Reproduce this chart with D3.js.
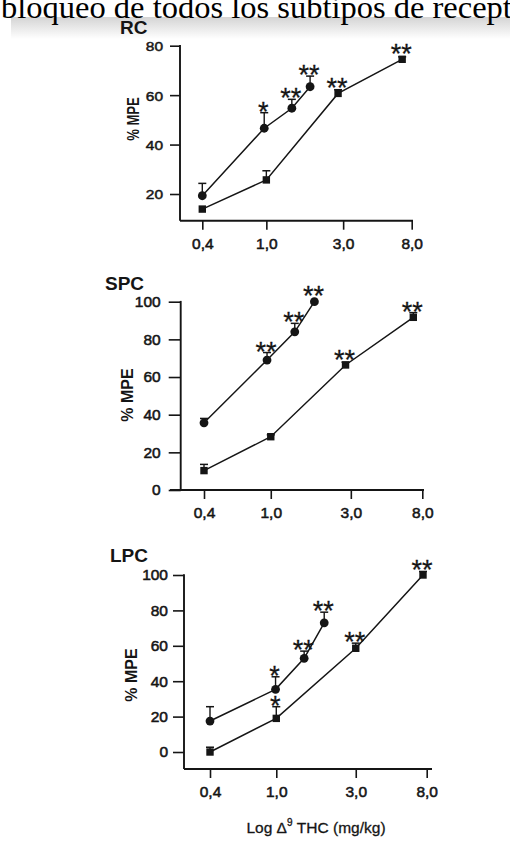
<!DOCTYPE html>
<html><head><meta charset="utf-8">
<script src="https://cdn.jsdelivr.net/npm/d3@7"></script>
<style>
html,body{margin:0;padding:0;background:#fff;overflow:hidden;}
svg{display:block;}
</style></head><body>
<svg id="c" width="510" height="843"></svg>
<script>
// ---------- data ----------
const headerText = "bloqueo de todos los subtipos de receptores";
const xAxisTitle = "Log \u0394";
const xTickValues = [0.4, 1, 3, 8];
const xTickLabels = ["0,4", "1,0", "3,0", "8,0"];
const rcYTicks = [20, 40, 60, 80];
const pcYTicks = [0, 20, 40, 60, 80, 100];

// RC
const rcCircleDose = [0.4, 0.97, 1.44, 1.87];
const rcCircleMean = [19.3, 46.6, 54.7, 63.4];
const rcCircleErr  = [5.0, 6.3, 3.6, 4.3];
const rcCircleSig  = ["", "*", "**", "**"];
const rcSquareDose = [0.4, 1.0, 2.79, 6.98];
const rcSquareMean = [13.9, 25.7, 60.7, 74.5];
const rcSquareErr  = [0.5, 3.7, 1.5, 1.0];
const rcSquareSig  = ["", "", "**", "**"];

// SPC
const spcCircleDose = [0.4, 0.95, 1.39, 1.82];
const spcCircleMean = [35.7, 69.0, 84.0, 100.0];
const spcCircleErr  = [2.3, 4.0, 4.5, 0];
const spcCircleSig  = ["", "**", "**", "**"];
const spcSquareDose = [0.4, 1.0, 2.79, 7.07];
const spcSquareMean = [10.3, 28.3, 66.4, 91.7];
const spcSquareErr  = [3.3, 1.0, 1.5, 2.5];
const spcSquareSig  = ["", "", "**", "**"];

// LPC
const lpcCircleDose = [0.4, 0.99, 1.47, 1.94];
const lpcCircleMean = [17.5, 35.4, 52.9, 73.0];
const lpcCircleErr  = [8.1, 7.1, 4.1, 6.0];
const lpcCircleSig  = ["", "*", "**", "**"];
const lpcSquareDose = [0.4, 1.0, 3.0, 7.6];
const lpcSquareMean = [0, 19.0, 58.6, 100.0];
const lpcSquareErr  = [2.7, 6.6, 2.9, 2.0];
const lpcSquareSig  = ["", "*", "**", "**"];

// ---------- layout ----------
const panels = [
  {title:"RC", titleX:120, titleY:34, axisX:180, xr:[202.3,411.7], yd:[9.2,80], yr:[220.7,45.7],
   yTicks:rcYTicks, ytick:10, ypad:7, xStart:180, xEnd:413, labX:133, labY:119, labScale:0.82, tickScale:0.85,
   c:[rcCircleDose,rcCircleMean,rcCircleErr,rcCircleSig], s:[rcSquareDose,rcSquareMean,rcSquareErr,rcSquareSig]},
  {title:"SPC", titleX:105, titleY:290, axisX:180.7, xr:[204,422.3], yd:[0,100], yr:[490,301.7],
   yTicks:pcYTicks, ytick:12, ypad:8, xStart:170, xEnd:424, labX:127, labY:395, labScale:1, tickScale:1,
   c:[spcCircleDose,spcCircleMean,spcCircleErr,spcCircleSig], s:[spcSquareDose,spcSquareMean,spcSquareErr,spcSquareSig]},
  {title:"LPC", titleX:110, titleY:562, axisX:184, xr:[210,426.7], yd:[-9.6,100], yr:[769,575],
   yTicks:pcYTicks, ytick:11, ypad:5, xStart:184, xEnd:432, labX:131, labY:675, labScale:1, tickScale:1,
   c:[lpcCircleDose,lpcCircleMean,lpcCircleErr,lpcCircleSig], s:[lpcSquareDose,lpcSquareMean,lpcSquareErr,lpcSquareSig]}
];

const svg = d3.select("#c");
const ink = "#151515";
const FONT = "'Liberation Sans', Arial, sans-serif";

// scanned page band
const defs = svg.append("defs");
const g1 = defs.append("linearGradient").attr("id","band").attr("x1",0).attr("y1",0).attr("x2",0).attr("y2",1);
g1.append("stop").attr("offset","0%").attr("stop-color","#d4d4d4");
g1.append("stop").attr("offset","100%").attr("stop-color","#ffffff");
svg.append("rect").attr("x",11).attr("y",17).attr("width",499).attr("height",22).attr("fill","url(#band)");

svg.append("text").attr("x",1).attr("y",17.5)
  .attr("font-family","'Liberation Serif','Times New Roman',serif").attr("font-size",32.5)
  .attr("fill","#000").text(headerText);

panels.forEach(p => {
  const x = d3.scaleLog().domain([0.4, 8]).range(p.xr);
  const y = d3.scaleLinear().domain(p.yd).range(p.yr);
  const g = svg.append("g");
  const yBase = p.yr[0];

  // title
  g.append("text").attr("x",p.titleX).attr("y",p.titleY).attr("font-family",FONT)
    .attr("font-weight","bold").attr("font-size",19).attr("fill",ink).text(p.title);

  // y axis
  const ya = g.append("g").attr("transform",`translate(${p.axisX},0)`)
    .call(d3.axisLeft(y).tickValues(p.yTicks).tickSize(p.ytick).tickPadding(p.ypad).tickFormat(d3.format("d")));
  ya.select(".domain").remove();
  ya.selectAll("line").attr("stroke",ink).attr("stroke-width",1.6);
  ya.selectAll("text").attr("font-family",FONT).attr("font-size",15.5).attr("fill",ink)
    .attr("stroke",ink).attr("stroke-width",0.55);
  if (p.tickScale !== 1) {
    ya.selectAll(".tick text").attr("transform",`scale(1,${p.tickScale})`).attr("dy", (0.32/p.tickScale)+"em");
  }
  g.append("line").attr("x1",p.axisX).attr("x2",p.axisX).attr("y1",y(p.yTicks[p.yTicks.length-1])-0.8).attr("y2",yBase)
    .attr("stroke",ink).attr("stroke-width",1.9);

  // x axis
  const xa = g.append("g").attr("transform",`translate(0,${yBase})`)
    .call(d3.axisBottom(x).tickValues(xTickValues).tickSize(9).tickPadding(8)
      .tickFormat((d,i) => xTickLabels[i]));
  xa.select(".domain").remove();
  xa.selectAll("line").attr("stroke",ink).attr("stroke-width",1.6);
  xa.selectAll("text").attr("font-family",FONT).attr("font-size",15.5).attr("fill",ink)
    .attr("stroke",ink).attr("stroke-width",0.55);
  g.append("line").attr("x1",p.xStart).attr("x2",p.xEnd).attr("y1",yBase).attr("y2",yBase)
    .attr("stroke",ink).attr("stroke-width",1.9);

  // y label
  g.append("text").attr("transform",`translate(${p.labX},${p.labY}) scale(1,${p.labScale}) rotate(-90)`)
    .attr("text-anchor","middle").attr("dy","0.35em").attr("font-family",FONT).attr("font-weight","bold")
    .attr("font-size",16).attr("fill",ink).text("% MPE");

  // series
  const series = [
    {arr:p.c, shape:"circle"},
    {arr:p.s, shape:"square"}
  ];
  series.forEach(sr => {
    const [dose, mean, err, sig] = sr.arr;
    const pts = dose.map((d,i) => ({d, m:mean[i], e:err[i], s:sig[i]}));
    const line = d3.line().x(q => x(q.d)).y(q => y(q.m));
    g.append("path").datum(pts).attr("d",line).attr("fill","none").attr("stroke",ink).attr("stroke-width",1.5);
    // error bars
    pts.filter(q => q.e > 0.8).forEach(q => {
      const cx = x(q.d), top = y(q.m + q.e);
      g.append("line").attr("x1",cx).attr("x2",cx).attr("y1",y(q.m)).attr("y2",top).attr("stroke",ink).attr("stroke-width",1.4);
      g.append("line").attr("x1",cx-4).attr("x2",cx+4).attr("y1",top).attr("y2",top).attr("stroke",ink).attr("stroke-width",1.5);
    });
    // markers
    if (sr.shape === "circle") {
      g.selectAll(null).data(pts).enter().append("circle")
        .attr("cx",q=>x(q.d)).attr("cy",q=>y(q.m)).attr("r",4.4).attr("fill",ink);
    } else {
      g.selectAll(null).data(pts).enter().append("rect")
        .attr("x",q=>x(q.d)-3.7).attr("y",q=>y(q.m)-3.7).attr("width",7.4).attr("height",7.4).attr("fill",ink);
    }
    // significance stars
    pts.filter(q => q.s).forEach(q => {
      const cx = x(q.d);
      const top = Math.min(y(q.m + q.e), y(q.m) - 4.4);
      const cy = top - 7.5;
      g.append("text").attr("x",cx-1).attr("y",cy + 27*0.575).attr("text-anchor","middle")
        .attr("font-family",FONT).attr("font-size",27).attr("fill",ink).attr("stroke",ink).attr("stroke-width",0.3).text(q.s);
    });
  });
});

// x axis title
const xt = svg.append("text").attr("x",316).attr("y",833).attr("text-anchor","middle")
  .attr("font-family",FONT).attr("font-size",15.5).attr("fill",ink).attr("stroke",ink).attr("stroke-width",0.3);
xt.append("tspan").text(xAxisTitle);
xt.append("tspan").attr("dy",-7).attr("font-size",10).text("9");
xt.append("tspan").attr("dy",7).text(" THC (mg/kg)");
</script>
</body></html>
